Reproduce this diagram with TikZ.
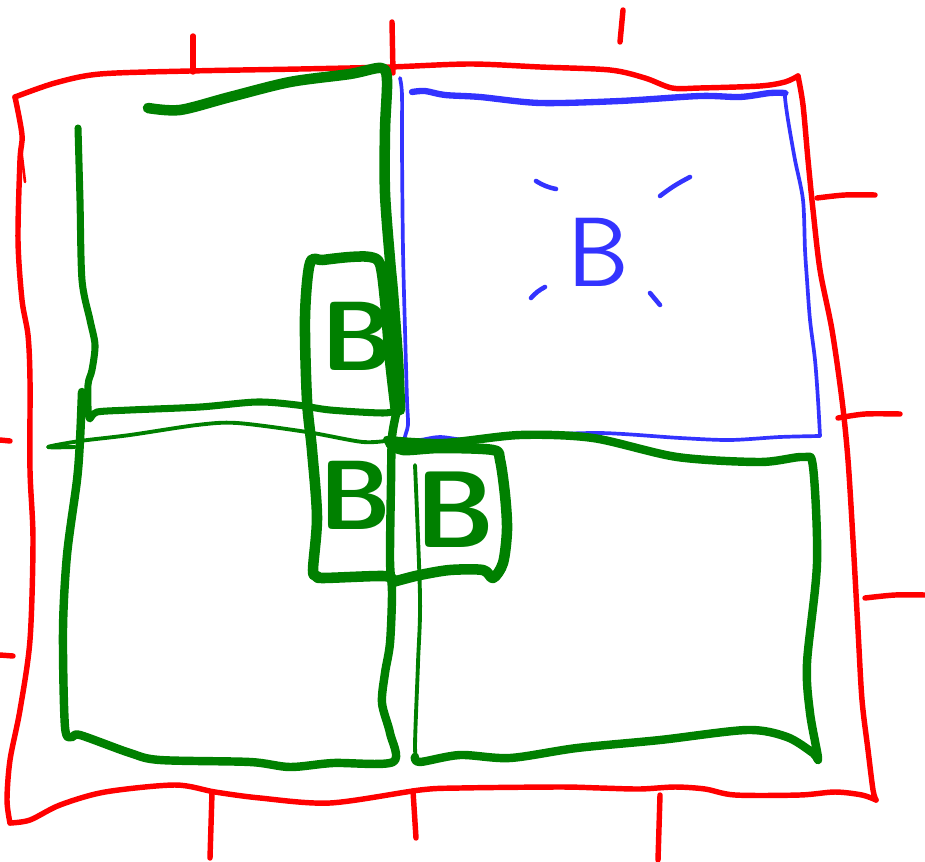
\documentclass[tikz,border=0pt]{standalone}
\definecolor{sred}{RGB}{255,0,0}
\definecolor{sgreen}{RGB}{0,128,0}
\definecolor{sblue}{RGB}{51,51,255}
\begin{document}
\begin{tikzpicture}[x=0.02cm,y=-0.02cm, line cap=round, line join=round,
 redline/.style={draw=sred, line width=3.1pt},
 gthin/.style={draw=sgreen, line width=2.2pt},
 gmid/.style={draw=sgreen, line width=4.0pt},
 gthick/.style={draw=sgreen, line width=4.8pt},
 gheavy/.style={draw=sgreen, line width=6pt},
 bthin/.style={draw=sblue, line width=2.1pt},
 bmid/.style={draw=sblue, line width=3.6pt},
 letter/.style={font=\sffamily\fontsize{56}{56}\selectfont, inner sep=0pt},
 gletter/.style={font=\sffamily\bfseries\fontsize{56}{56}\selectfont, inner sep=0pt, text=sgreen}]
\useasboundingbox (0,0) rectangle (925,861);
% red frame
\draw[redline] plot[smooth, tension=0.5] coordinates {(15,97) (55,83) (100,74) (190,71) (300,69) (390,67) (470,64) (540,67) (610,70) (645,78) (672,88) (700,88) (760,86) (785,82) (798,76)};
\draw[redline] plot[smooth, tension=0.5] coordinates {(798,76) (803,105) (808,160) (813,210) (820,270) (832,330) (842,400) (848,460) (853,540) (858,630) (862,700) (868,750) (873,790) (876,800)};
\draw[redline] plot[smooth, tension=0.5] coordinates {(876,800) (862,795) (835,792) (800,795) (735,795) (705,789) (675,787) (640,789) (600,788) (560,787) (460,788) (420,790) (330,803) (260,798) (215,792) (175,785) (105,792) (60,805) (30,820) (10,823)};
\draw[redline] plot[smooth, tension=0.5] coordinates {(10,823) (7,800) (10,760) (20,710) (30,640) (33,540) (30,470) (30,380) (28,335) (22,300) (18,240) (20,160) (22,135) (15,97)};
\draw[redline, line width=1.5pt] (21,148) -- (25,182);
% red ticks
\draw[redline] (193,36) -- (193,72);
\draw[redline] (392,22) -- (393,73);
\draw[redline] (623,10) -- (620,42);
\draw[redline] (212,793) -- (210,858);
\draw[redline] (413,791) -- (416,838);
\draw[redline] (660,795) -- (658,860);
\draw[redline] (0,440) -- (10,441);
\draw[redline] (0,655) -- (13,656);
\draw[redline] plot[smooth] coordinates {(817,198) (845,195) (875,195)};
\draw[redline] plot[smooth] coordinates {(838,418) (865,414) (900,414)};
\draw[redline] plot[smooth] coordinates {(865,598) (895,595) (925,595)};
% blue box
\draw[bthin] plot[smooth, tension=0.5] coordinates {(400,78) (402,95) (402,150) (403,250) (405,330) (407,400) (408,425) (405,440) (420,440) (440,437) (470,440) (520,436) (600,433) (680,438) (730,440) (780,437) (820,436)};
\draw[bthin] plot[smooth, tension=0.5] coordinates {(820,436) (818,400) (815,360) (810,320) (807,280) (805,250) (803,200) (795,160) (788,120) (785,97) (787,93)};
\draw[bmid] plot[smooth, tension=0.5] coordinates {(412,92) (425,91) (445,95) (480,97) (540,103) (620,101) (700,96) (740,97) (770,93) (785,93)};
% blue rays
\draw[bthin, line width=2.6pt] (536,181) to[bend right=10] (556,189);
\draw[bthin, line width=2.6pt] (660,196) to[bend left=5] (690,177);
\draw[bthin, line width=2.6pt] (531,298) to[bend left=10] (545,287);
\draw[bthin, line width=2.6pt] (650,293) -- (660,305);
\node[letter, text=sblue] (bq) at (598,252) {B};
% green: top-left box
\draw[gmid] plot[smooth, tension=0.5] coordinates {(78,128) (80,200) (82,280) (90,320) (95,345) (92,370) (88,385) (89,418) (97,412) (130,410) (200,407) (257,402) (297,405) (330,410) (383,413) (398,410)};
\draw[gheavy] plot[smooth, tension=0.5] coordinates {(148,108) (180,110) (230,97) (290,82) (350,74) (381,68) (387,80) (385,130) (385,193) (390,260) (393,293) (398,360) (400,410)};
% thin horizontal
\draw[gthin] plot[smooth, tension=0.5] coordinates {(75,447) (48,447) (80,441) (130,435) (197,425) (237,423) (307,432) (363,442) (392,440)};
% tall small box
\draw[gheavy] plot[smooth, tension=0.5] coordinates {(396,412) (390,360) (385,300) (380,264) (370,257) (350,257) (323,260) (310,263) (305,317) (307,400) (312,450) (317,517) (313,570) (317,576) (323,578) (383,576) (393,580)};
% lower-left box
\draw[gthick] plot[smooth, tension=0.5] coordinates {(82,392) (80,440) (77,480) (67,555) (63,630) (65,727) (72,737) (80,735) (130,753) (160,760) (250,762) (290,767) (333,763) (393,762) (390,733) (382,703) (385,673) (390,643) (392,593) (390,560) (391,483) (392,437) (397,410)};
% 13 box
\draw[gheavy] plot[smooth, tension=0.5] coordinates {(390,443) (403,450) (440,448) (493,450) (500,460) (505,495) (507,530) (503,563) (493,578) (483,570) (450,570) (420,575) (400,580) (393,582)};
% thin vertical
\draw[gthin] plot[smooth, tension=0.5] coordinates {(415,465) (420,597) (418,663) (415,747) (418,760)};
% lower-right box
\draw[gthick] plot[smooth, tension=0.5] coordinates {(387,440) (443,443) (520,435) (593,438) (677,457) (760,462) (803,457) (813,467) (817,563) (807,663) (810,713) (818,758) (813,753) (787,737) (747,730) (660,740) (577,748) (510,758) (460,755) (420,762) (415,757)};
% green letters
\node[gletter] (g1) at (358,336) {B};
\node[gletter] (g2) at (356,495) {B};
\node[gletter, font=\sffamily\bfseries\fontsize{62}{62}\selectfont] (g3) at (455,510) {B};
\end{tikzpicture}
\end{document}
